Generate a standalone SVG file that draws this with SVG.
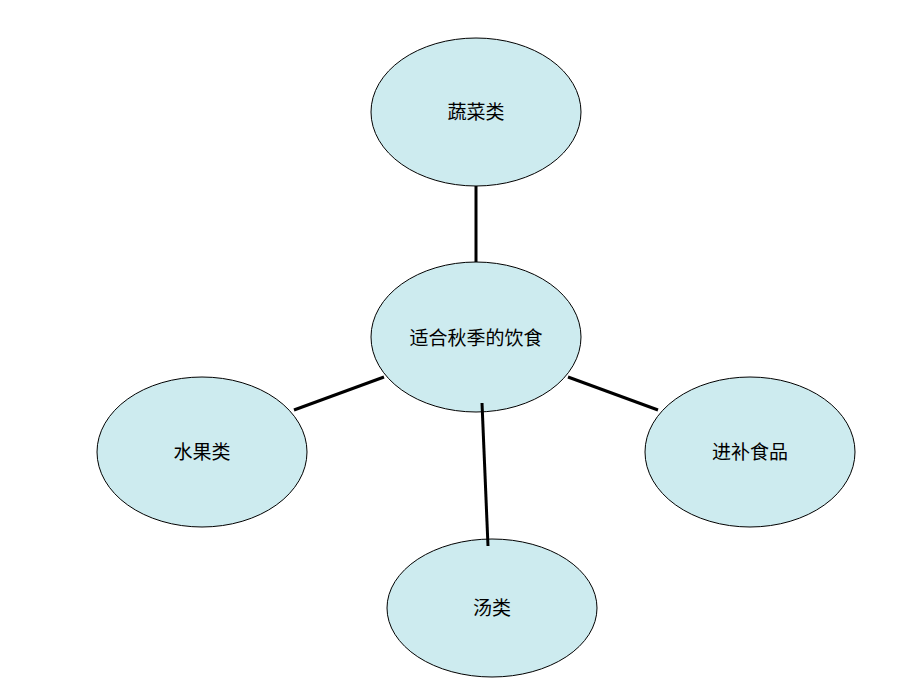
<svg xmlns="http://www.w3.org/2000/svg" width="920" height="690" viewBox="0 0 920 690">
<style>
.n{fill:#CDEBEF;stroke:#000;stroke-width:1}
.t{font-family:"Liberation Serif","Noto Sans CJK SC",serif;font-size:19px;text-anchor:middle;dominant-baseline:central;fill:#000}
.c{stroke:#000;stroke-width:3;fill:none}
</style>
<rect width="920" height="690" fill="#fff"/>
<g id="top"><ellipse class="n" cx="476" cy="112" rx="105" ry="74"/><text class="t" x="476" y="112">蔬菜类</text></g>
<g id="center"><ellipse class="n" cx="476" cy="337" rx="105" ry="75"/><text class="t" x="476" y="338">适合秋季的饮食</text></g>
<g id="left"><ellipse class="n" cx="202" cy="452" rx="105" ry="75"/><text class="t" x="202" y="452">水果类</text></g>
<g id="right"><ellipse class="n" cx="750" cy="452" rx="105" ry="75"/><text class="t" x="750" y="452">进补食品</text></g>
<g id="bottom"><ellipse class="n" cx="492" cy="608" rx="105" ry="69"/><text class="t" x="492" y="608">汤类</text></g>
<g id="connectors">
<line class="c" x1="476" y1="186" x2="476" y2="262"/>
<line class="c" x1="294" y1="410" x2="384" y2="377"/>
<line class="c" x1="568" y1="377" x2="658" y2="410"/>
<line class="c" x1="482" y1="403" x2="488" y2="546"/>
</g>
</svg>
